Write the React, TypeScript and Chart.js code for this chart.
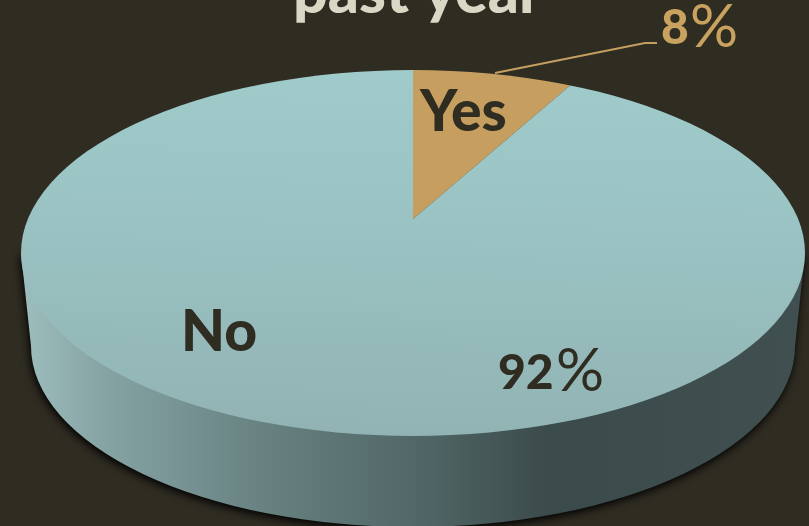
import React, { useEffect, useRef } from "react";
import { Chart, registerables } from "chart.js";

Chart.register(...registerables);

const categories = ["Yes", "No"];
const seriesValues = [8, 92];
const percentLabels = ["8", "92"];
const titleText = "past year";

const BG = "#2f2c22";
const INK = "#2f2c22";
const TAN = "#c69f60";

// pie geometry on the page
const TOP = { cx: 413, cy: 253, rx: 392, ry: 183 };
const BOTTOM = { cx: 413, cy: 346, rx: 382, ry: 181 };
const TIP = { x: 413, y: 219 };
const SQUASH = 0.467;
const DRAWN_RADIUS = 470;

const FONT = "Lato, 'Open Sans', sans-serif";

const piePlugin = {
  id: "tiltedPie",
  beforeDatasetsDraw(chart: any) {
    const ctx = chart.ctx as CanvasRenderingContext2D;
    const arc = chart.getDatasetMeta(0).data[0];

    // wall
    ctx.save();
    const wall = ctx.createLinearGradient(25, 0, 800, 0);
    wall.addColorStop(0, "#9dbcbc");
    wall.addColorStop(0.1, "#86a4a4");
    wall.addColorStop(0.32, "#667f7f");
    wall.addColorStop(0.5, "#526868");
    wall.addColorStop(0.68, "#3b4a4a");
    wall.addColorStop(1, "#404f50");
    ctx.shadowColor = "rgba(0,0,0,1)";
    ctx.shadowBlur = 8;
    ctx.shadowOffsetY = 3;
    ctx.shadowOffsetX = -1;
    ctx.fillStyle = wall;
    ctx.beginPath();
    ctx.moveTo(TOP.cx - TOP.rx, TOP.cy);
    ctx.lineTo(BOTTOM.cx - BOTTOM.rx, BOTTOM.cy);
    ctx.ellipse(BOTTOM.cx, BOTTOM.cy, BOTTOM.rx, BOTTOM.ry, 0, Math.PI, 0, true);
    ctx.lineTo(TOP.cx + TOP.rx, TOP.cy);
    ctx.closePath();
    ctx.fill();
    ctx.restore();

    // top face: the library's arcs, squashed and clipped to the ellipse
    ctx.save();
    ctx.beginPath();
    ctx.ellipse(TOP.cx, TOP.cy, TOP.rx, TOP.ry, 0, 0, Math.PI * 2);
    ctx.clip();
    const k = DRAWN_RADIUS / arc.outerRadius;
    ctx.translate(TIP.x, TIP.y);
    ctx.scale(k, k * SQUASH);
    ctx.translate(-arc.x, -arc.y);
  },
  afterDatasetsDraw(chart: any) {
    const ctx = chart.ctx as CanvasRenderingContext2D;
    ctx.restore();

    ctx.save();
    // leader line
    ctx.strokeStyle = TAN;
    ctx.lineWidth = 1.8;
    ctx.beginPath();
    ctx.moveTo(495, 73);
    ctx.lineTo(645, 43);
    ctx.lineTo(657, 43);
    ctx.stroke();

    ctx.textBaseline = "alphabetic";
    ctx.textAlign = "left";
    // title (cut by the page top)
    ctx.fillStyle = "#d9d8c4";
    ctx.font = `900 61px ${FONT}`;
    ctx.fillText(titleText, 293, 13);

    // category labels
    ctx.fillStyle = INK;
    ctx.font = `900 57px ${FONT}`;
    ctx.fillText(categories[0], 420, 131);
    ctx.fillText(categories[1], 181, 351);

    // percent labels
    ctx.font = `900 48px ${FONT}`;
    ctx.fillText(percentLabels[1], 498, 389);
    ctx.font = `400 60px ${FONT}`;
    ctx.fillText("%", 556, 391);

    ctx.fillStyle = "#c9a25f";
    ctx.font = `900 48px ${FONT}`;
    ctx.fillText(percentLabels[0], 661, 44);
    ctx.font = `400 60px ${FONT}`;
    ctx.fillText("%", 690, 47);
    ctx.restore();
  },
};

export default function App() {
  const ref = useRef<HTMLCanvasElement>(null);
  useEffect(() => {
    document.body.style.margin = "0";
    document.body.style.background = BG;
    const canvas = ref.current!;
    const chart = new Chart(canvas, {
      type: "pie",
      data: {
        labels: categories,
        datasets: [
          {
            data: seriesValues,
            borderWidth: 0,
            backgroundColor: (c: any) => {
              if (c.dataIndex === 0) return TAN;
              const a = c.chart.chartArea;
              if (!a) return "#98bcbd";
              const R = Math.min(a.right - a.left, a.bottom - a.top) / 2;
              const X = (a.left + a.right) / 2;
              const Y = (a.top + a.bottom) / 2;
              const k = DRAWN_RADIUS / R;
              const toX = (sx: number) => X + (sx - TIP.x) / k;
              const toY = (sy: number) => Y + (sy - TIP.y) / (k * SQUASH);
              const g = c.chart.ctx.createLinearGradient(toX(440), toY(70), toX(400), toY(436));
              g.addColorStop(0, "#a0cbcb");
              g.addColorStop(0.45, "#9ac2c2");
              g.addColorStop(1, "#92b3b4");
              return g;
            },
          },
        ],
      },
      options: {
        responsive: false,
        animation: false,
        events: [],
        layout: { padding: 0 },
        plugins: { legend: { display: false }, tooltip: { enabled: false }, title: { display: false } },
      },
      plugins: [piePlugin],
    } as any);
    return () => chart.destroy();
  }, []);
  return (
    <div style={{ width: 809, height: 526, background: BG, overflow: "hidden" }}>
      <canvas ref={ref} width={809} height={526} style={{ display: "block" }} />
    </div>
  );
}
